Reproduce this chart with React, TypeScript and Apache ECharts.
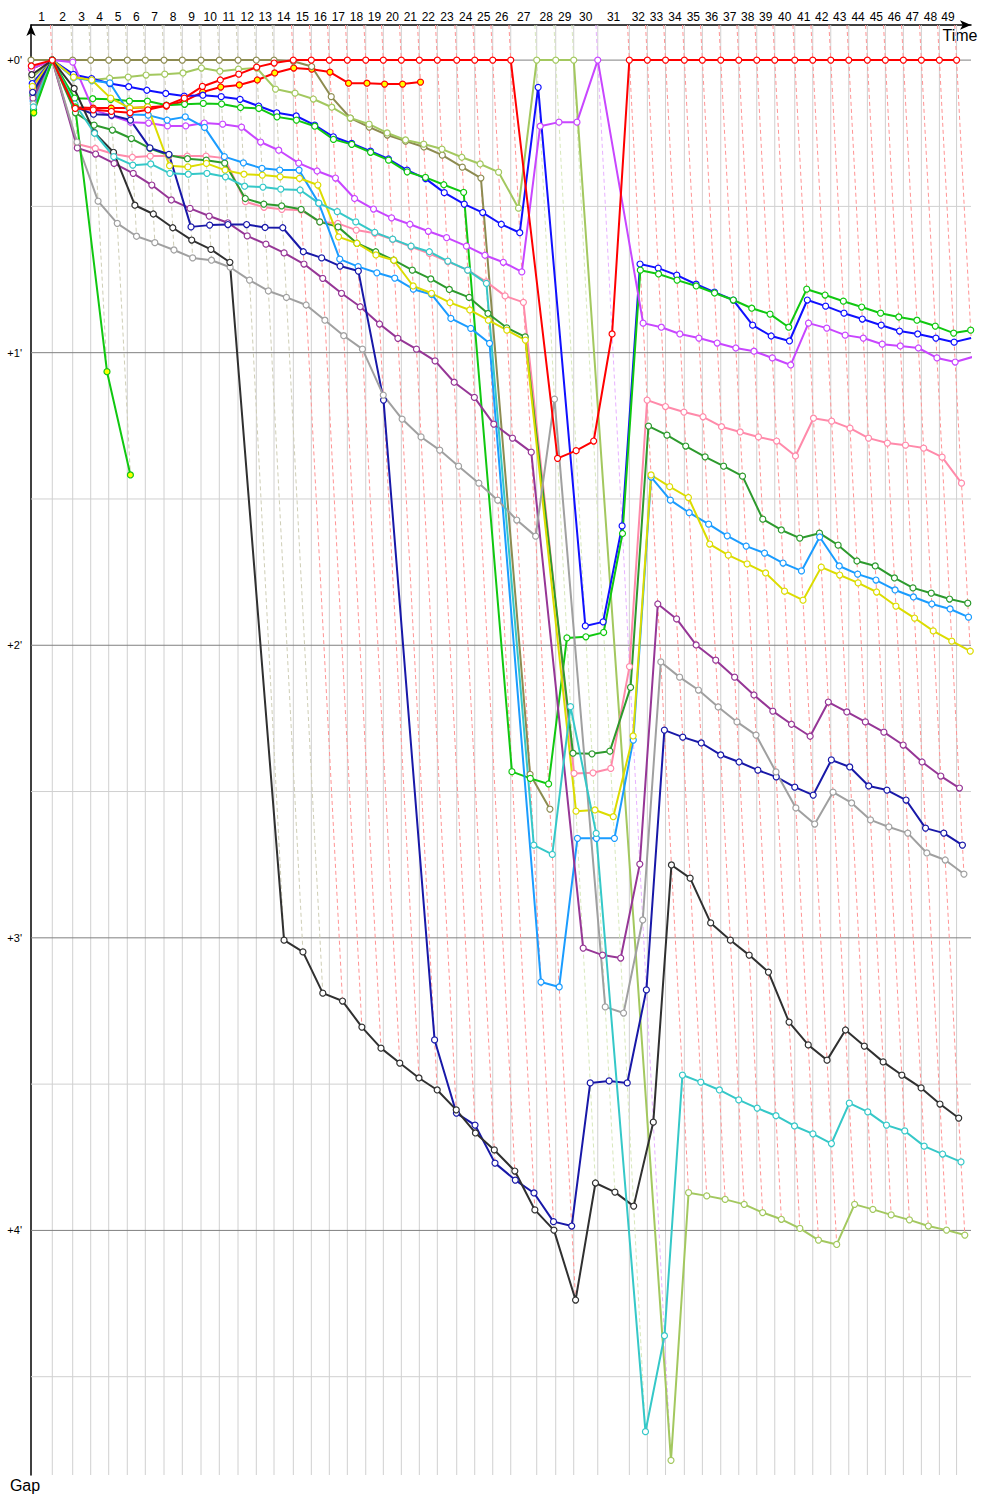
import React, { useEffect, useRef } from "react";
import * as echarts from "echarts";

// Leader's crossing time (s) at the end of each lap (index = lap, 0 = start)
const lapTimes = [
  0, 83.5, 163.5, 234.1, 304.7, 377.6, 448.2, 521.6, 593.3, 666.7, 738.4,
  811.8, 883.5, 952.9, 1028.6, 1099.2, 1169.8, 1240.4, 1312.6, 1381.6, 1452.2,
  1522.8, 1593.3, 1669.4, 1740.0, 1810.6, 1881.2, 1983.1, 2057.6, 2128.2, 2222.4,
  2346.3, 2416.9, 2488.2, 2562.0, 2632.6, 2704.7, 2775.3, 2845.9, 2916.5, 2994.9,
  3065.5, 3136.1, 3206.7, 3279.6, 3350.2, 3420.8, 3491.4, 3562.0, 3629.4,
];
const lapLabels = lapTimes.slice(1).map((_, i) => String(i + 1));
const gapMajorTicks = [0, 1, 2, 3, 4];
const gapMajorLabels = ["+0'", "+1'", "+2'", "+3'", "+4'"];
const gapMinorTicks = [0.5, 1.5, 2.5, 3.5, 4.5];

// Gaps to the leader, in minutes, per lap (index = lap)
const redGaps = [0.02, 0, 0.165, 0.17, 0.175, 0.18, 0.17, 0.155, 0.13, 0.09, 0.068, 0.048, 0.024, 0.01,
  0, 0, 0, 0, 0, 0, 0, 0, 0, 0, 0, 0, 0, 1.361, 1.335, 1.302, 0.936,
  0, 0, 0, 0, 0, 0, 0, 0, 0, 0, 0, 0, 0, 0, 0, 0, 0, 0, 0];
const red2Gaps = [0.03, 0, 0.161, 0.164, 0.164, 0.164, 0.161, 0.157, 0.14, 0.109, 0.092, 0.085, 0.068, 0.044,
  0.027, 0.031, 0.041, 0.079, 0.079, 0.082, 0.082, 0.075];
const oliveGaps = [0, 0, 0, 0, 0, 0, 0, 0, 0, 0, 0, 0, 0, 0, 0.004, 0.022, 0.125, 0.198, 0.229, 0.256,
  0.277, 0.297, 0.325, 0.366, 0.403, 2.441, 2.56];
const lightGreenGaps = [0.06, 0, 0.051, 0.068, 0.062, 0.058, 0.051, 0.048, 0.044, 0.027, 0.038, 0.031, 0.027,
  0.099, 0.113, 0.133, 0.161, 0.198, 0.219, 0.249, 0.273, 0.287, 0.304, 0.332, 0.355, 0.383, 0.506,
  0, 0, 0, 4.786, 3.871, 3.882, 3.894, 3.911, 3.939, 3.962, 3.993, 4.033, 4.048, 3.911, 3.928, 3.947,
  3.964, 3.985, 3.999, 4.016];
const blueGaps = [0.08, 0, 0.049, 0.063, 0.08, 0.091, 0.103, 0.114, 0.123, 0.12, 0.125, 0.134, 0.157, 0.18,
  0.191, 0.222, 0.262, 0.285, 0.311, 0.338, 0.376, 0.405, 0.453, 0.492, 0.521, 0.561, 0.59, 0.093,
  1.934, 1.92, 1.592, 0.697, 0.711, 0.735, 0.766, 0.793, 0.82, 0.906, 0.943, 0.96, 0.82, 0.841, 0.865,
  0.885, 0.906, 0.926, 0.936, 0.95, 0.964, 0.95];
const greenGaps = [0.17, 0, 0.13, 0.132, 0.134, 0.14, 0.14, 0.154, 0.151, 0.148, 0.15, 0.162, 0.165, 0.194,
  0.205, 0.226, 0.271, 0.288, 0.315, 0.342, 0.382, 0.401, 0.426, 0.452, 2.432, 2.455, 2.474, 1.975,
  1.971, 1.956, 1.618, 0.718, 0.731, 0.752, 0.772, 0.796, 0.82, 0.848, 0.868, 0.913, 0.783, 0.803,
  0.824, 0.844, 0.865, 0.878, 0.889, 0.909, 0.933, 0.923];
const violetGaps = [0.03, 0, 0.007, 0.17, 0.19, 0.212, 0.215, 0.225, 0.225, 0.215, 0.219, 0.229, 0.28, 0.308,
  0.352, 0.379, 0.403, 0.473, 0.509, 0.539, 0.561, 0.585, 0.607, 0.636, 0.667, 0.691, 0.724, 0.226,
  0.212, 0.212, 0, 0.899, 0.913, 0.936, 0.95, 0.967, 0.984, 0.995, 1.018, 1.042, 0.899, 0.916, 0.94,
  0.95, 0.971, 0.977, 0.984, 1.018, 1.032, 1.015];
const pinkGaps = [0.1, 0, 0.287, 0.302, 0.321, 0.332, 0.328, 0.328, 0.328, 0.328, 0.335, 0.484, 0.503, 0.51,
  0.513, 0.553, 0.558, 0.581, 0.592, 0.613, 0.638, 0.661, 0.689, 0.718, 0.758, 0.806, 0.828, 2.438,
  2.436, 2.421, 2.073, 1.162, 1.184, 1.203, 1.219, 1.253, 1.271, 1.288, 1.302, 1.353, 1.224, 1.234,
  1.258, 1.292, 1.309, 1.316, 1.326, 1.357, 1.446];
const darkGreenGaps = [0.12, 0, 0.18, 0.222, 0.239, 0.268, 0.302, 0.325, 0.337, 0.342, 0.352, 0.473, 0.492,
  0.498, 0.51, 0.553, 0.57, 0.626, 0.655, 0.684, 0.718, 0.748, 0.784, 0.811, 0.866, 0.915, 0.946,
  2.369, 2.371, 2.362, 2.144, 1.251, 1.282, 1.319, 1.356, 1.388, 1.422, 1.569, 1.606, 1.634, 1.617,
  1.658, 1.712, 1.729, 1.77, 1.804, 1.822, 1.842, 1.856];
const dodgerGaps = [0.14, 0, 0.06, 0.07, 0.078, 0.186, 0.188, 0.205, 0.194, 0.23, 0.33, 0.351, 0.37, 0.376,
  0.376, 0.489, 0.68, 0.706, 0.727, 0.745, 0.783, 0.801, 0.883, 0.917, 0.968, 3.151, 3.168, 2.66,
  2.66, 2.66, 2.324, 1.425, 1.504, 1.547, 1.586, 1.626, 1.661, 1.685, 1.719, 1.746, 1.63, 1.729,
  1.757, 1.777, 1.811, 1.835, 1.859, 1.876, 1.904];
const yellowGaps = [0.09, 0, 0.058, 0.068, 0.13, 0.164, 0.16, 0.361, 0.365, 0.353, 0.376, 0.39, 0.393, 0.399,
  0.404, 0.427, 0.604, 0.626, 0.666, 0.684, 0.772, 0.797, 0.829, 0.854, 0.889, 0.923, 0.957, 2.567,
  2.563, 2.586, 2.31, 1.418, 1.458, 1.495, 1.654, 1.692, 1.722, 1.753, 1.815, 1.846, 1.733, 1.76,
  1.787, 1.818, 1.866, 1.907, 1.951, 1.986, 2.02];
const purpleGaps = [0.13, 0, 0.3, 0.321, 0.353, 0.387, 0.427, 0.478, 0.507, 0.533, 0.556, 0.601, 0.629, 0.659,
  0.697, 0.746, 0.797, 0.843, 0.902, 0.951, 0.988, 1.028, 1.101, 1.153, 1.244, 1.292, 1.34, 3.035,
  3.059, 3.069, 2.748, 1.859, 1.91, 1.999, 2.051, 2.109, 2.17, 2.225, 2.27, 2.311, 2.194, 2.228,
  2.262, 2.297, 2.341, 2.399, 2.447, 2.488];
const navyGaps = [0.11, 0, 0.16, 0.185, 0.188, 0.205, 0.3, 0.322, 0.57, 0.564, 0.562, 0.562, 0.572, 0.573,
  0.655, 0.676, 0.704, 0.721, 1.162, 3.349, 3.599, 3.64, 3.77, 3.828, 3.872, 3.97, 3.985, 3.496,
  3.489, 3.496, 3.178, 2.29, 2.314, 2.334, 2.375, 2.399, 2.427, 2.45, 2.485, 2.512, 2.392, 2.416,
  2.481, 2.495, 2.529, 2.625, 2.642, 2.683];
const grayGaps = [0.15, 0, 0.28, 0.482, 0.558, 0.602, 0.624, 0.649, 0.676, 0.684, 0.708, 0.752, 0.789, 0.811,
  0.837, 0.889, 0.942, 0.988, 1.145, 1.227, 1.288, 1.333, 1.388, 1.446, 1.504, 1.572, 1.627, 1.159,
  3.236, 3.257, 2.939, 2.057, 2.109, 2.153, 2.211, 2.262, 2.307, 2.433, 2.556, 2.611, 2.502, 2.539,
  2.597, 2.621, 2.642, 2.71, 2.734, 2.782];
const blackGaps = [0.05, 0, 0.097, 0.248, 0.315, 0.496, 0.526, 0.573, 0.615, 0.647, 0.691, 3.008, 3.048,
  3.189, 3.216, 3.305, 3.377, 3.428, 3.479, 3.52, 3.588, 3.667, 3.725, 3.797, 3.93, 3.999, 4.238,
  3.838, 3.869, 3.917, 3.63, 2.751, 2.796, 2.949, 3.008, 3.059, 3.117, 3.288, 3.366, 3.418, 3.315,
  3.37, 3.424, 3.469, 3.513, 3.568, 3.616];
const cyanGaps = [0.16, 0, 0.15, 0.25, 0.33, 0.359, 0.355, 0.387, 0.39, 0.387, 0.399, 0.431, 0.434, 0.441,
  0.444, 0.489, 0.518, 0.553, 0.589, 0.612, 0.636, 0.655, 0.687, 0.718, 0.763, 2.683, 2.715, 2.21,
  2.643, 4.688, 4.36, 3.469, 3.493, 3.52, 3.554, 3.582, 3.608, 3.643, 3.67, 3.703, 3.565, 3.595,
  3.64, 3.66, 3.712, 3.739, 3.766];
const greenYGaps = [0.18, 0, 0.16, 1.065, 1.418];

const seriesGaps = [
  redGaps, red2Gaps, oliveGaps, lightGreenGaps, blueGaps, greenGaps, violetGaps, pinkGaps,
  darkGreenGaps, dodgerGaps, yellowGaps, purpleGaps, navyGaps, grayGaps, blackGaps, cyanGaps, greenYGaps,
];
const seriesColors = [
  "#ff0000", "#ff0000", "#8d8b50", "#a3c85f", "#1010ff", "#10c810", "#c846ff", "#ff8aaa",
  "#2d9a2d", "#1a9cff", "#dcdc00", "#963696", "#1818a8", "#a0a0a0", "#303030", "#35c8c8", "#10c810",
];
const seriesMarkerFill = [
  "#ffffff", "#ffff00", "#ffffff", "#ffffff", "#ffffff", "#ffffff", "#ffffff", "#ffffff",
  "#ffffff", "#ffffff", "#ffffff", "#ffffff", "#ffffff", "#ffffff", "#ffffff", "#ffffff", "#ffff00",
];

const GAP_MIN = -0.12;
const GAP_MAX = 4.836;
const TIME_MAX = 3686;
const FONT = "Liberation Sans, Arial, sans-serif";

function lighten(hex: string, k: number) {
  const n = parseInt(hex.slice(1), 16);
  const r = (n >> 16) & 255, g = (n >> 8) & 255, b = n & 255;
  const m = (c: number) => Math.round(c * k + 255 * (1 - k));
  return `rgb(${m(r)},${m(g)},${m(b)})`;
}

function buildOption() {
  const segs: number[][] = [];
  const segStyles: any[] = [];
  // vertical lap gridlines
  for (let n = 1; n < lapTimes.length; n++) {
    segs.push([lapTimes[n], GAP_MIN, lapTimes[n], GAP_MAX]);
    segStyles.push({ stroke: "#d0d0d0", lineWidth: 1 });
  }
  // horizontal gap lines
  gapMinorTicks.forEach((g) => {
    segs.push([0, g, TIME_MAX, g]);
    segStyles.push({ stroke: "#d0d0d0", lineWidth: 1 });
  });
  gapMajorTicks.forEach((g) => {
    segs.push([0, g, TIME_MAX, g]);
    segStyles.push({ stroke: "#808080", lineWidth: 1 });
  });
  // dashed lap lines, coloured after the leader of the lap, down to the last car of the lap
  for (let n = 1; n < lapTimes.length; n++) {
    let leader = -1, best = Infinity, deepest = 0;
    seriesGaps.forEach((gs, si) => {
      if (gs.length > n) {
        if (gs[n] < best) { best = gs[n]; leader = si; }
        if (gs[n] > deepest) deepest = gs[n];
      }
    });
    let x1 = lapTimes[n] + GAP_MIN * 60, y1 = GAP_MIN;
    let x2 = lapTimes[n] + deepest * 60, y2 = deepest;
    if (x2 > TIME_MAX) { y2 = y1 + ((TIME_MAX - x1) / (x2 - x1)) * (y2 - y1); x2 = TIME_MAX; }
    segs.push([x1, y1, x2, y2]);
    segStyles.push({ stroke: lighten(seriesColors[leader], 0.42), lineWidth: 1, lineDash: [4, 3] });
  }

  const gridSeries = {
    type: "custom",
    z: 1,
    silent: true,
    encode: { x: [0, 2], y: [1, 3] },
    data: segs,
    renderItem: (params: any, api: any) => {
      const s = segs[params.dataIndex];
      const p1 = api.coord([s[0], s[1]]);
      const p2 = api.coord([s[2], s[3]]);
      return {
        type: "line",
        shape: { x1: p1[0], y1: p1[1], x2: p2[0], y2: p2[1] },
        style: { ...segStyles[params.dataIndex], fill: null },
      };
    },
  };

  const lapLabelData = lapLabels.map((_, i) => [(lapTimes[i] + lapTimes[i + 1]) / 2, GAP_MIN]);
  const lapLabelSeries = {
    type: "custom",
    z: 5,
    silent: true,
    encode: { x: 0, y: 1 },
    data: lapLabelData,
    renderItem: (params: any, api: any) => {
      const d = lapLabelData[params.dataIndex];
      const p = api.coord(d);
      return {
        type: "text",
        x: p[0],
        y: p[1] - 8,
        style: { text: lapLabels[params.dataIndex], fill: "#000", font: `12px ${FONT}`, align: "center", verticalAlign: "middle" },
      };
    },
  };

  const gapLabelData = gapMajorTicks.map((g) => [0, g]);
  const gapLabelSeries = {
    type: "custom",
    z: 5,
    silent: true,
    encode: { x: 0, y: 1 },
    data: gapLabelData,
    renderItem: (params: any, api: any) => {
      const p = api.coord(gapLabelData[params.dataIndex]);
      return {
        type: "text",
        x: p[0] - 9,
        y: p[1],
        style: { text: gapMajorLabels[params.dataIndex], fill: "#000", font: `11px ${FONT}`, align: "right", verticalAlign: "middle" },
      };
    },
  };

  const lineSeries = seriesGaps.map((gs, si) => ({
    type: "line",
    z: si === 0 ? 4 : 3,
    data: gs.map((g, lap) => [lapTimes[lap] + g * 60, g]),
    symbol: "circle",
    symbolSize: 6,
    showSymbol: true,
    showAllSymbol: true,
    lineStyle: { color: seriesColors[si], width: 2 },
    itemStyle: { color: seriesMarkerFill[si], borderColor: seriesColors[si], borderWidth: 1.2 },
    emphasis: { disabled: true },
  }));

  return {
    animation: false,
    backgroundColor: "#ffffff",
    grid: { left: 31, top: 25, width: 940, height: 1450 },
    xAxis: {
      type: "value",
      position: "top",
      min: 0,
      max: TIME_MAX,
      axisLine: { show: true, onZero: false, lineStyle: { color: "#000", width: 1.5 }, symbol: ["none", "arrow"], symbolSize: [7, 11] },
      axisTick: { show: false },
      axisLabel: { show: false },
      splitLine: { show: false },
    },
    yAxis: {
      type: "value",
      inverse: true,
      min: GAP_MIN,
      max: GAP_MAX,
      axisLine: { show: true, onZero: false, lineStyle: { color: "#000", width: 1.5 }, symbol: ["none", "arrow"], symbolSize: [7, 11] },
      axisTick: { show: false },
      axisLabel: { show: false },
      splitLine: { show: false },
    },
    graphic: [
      { type: "text", x: 960, y: 35, style: { text: "Time", font: `16px ${FONT}`, fill: "#000", align: "center", verticalAlign: "middle" } },
      { type: "text", x: 25, y: 1485, style: { text: "Gap", font: `16px ${FONT}`, fill: "#000", align: "center", verticalAlign: "middle" } },
    ],
    series: [gridSeries, ...lineSeries, lapLabelSeries, gapLabelSeries],
  };
}

export default function App() {
  const ref = useRef<HTMLDivElement>(null);
  useEffect(() => {
    const chart = echarts.init(ref.current as HTMLDivElement, null, { renderer: "svg" });
    chart.setOption(buildOption() as any);
    return () => chart.dispose();
  }, []);
  return (
    <div
      ref={ref}
      style={{ position: "absolute", left: 0, top: 0, width: 1000, height: 1500, background: "#fff" }}
    />
  );
}
